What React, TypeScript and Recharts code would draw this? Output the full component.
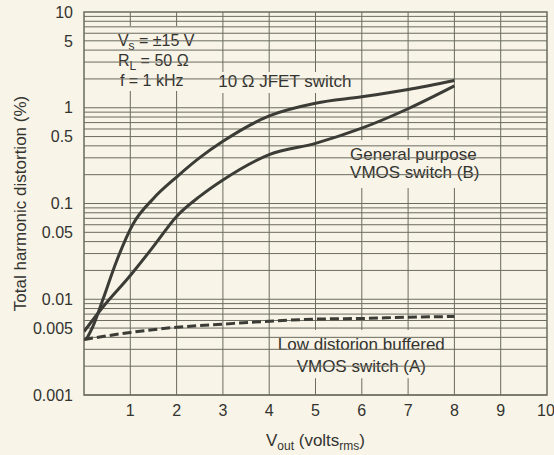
import React from 'react';
import {
  LineChart,
  Line,
  XAxis,
  YAxis,
  CartesianGrid,
  ReferenceArea,
  ReferenceLine,
  Label
} from 'recharts';

// values (against its decade lines)
const jfetVolts = [0.05, 0.2, 0.41, 0.69, 1.06, 1.5, 2, 2.5, 3, 4, 5, 6, 7, 8];
const jfetThd = [0.0038, 0.0053, 0.01, 0.0241, 0.0612, 0.113, 0.189, 0.301, 0.446, 0.822, 1.116, 1.3, 1.55, 1.93];

const vmosBVolts = [0, 0.4, 1, 1.5, 2, 2.5, 3, 4, 5, 6, 7, 8];
const vmosBThd = [0.0046, 0.0082, 0.0177, 0.0356, 0.0733, 0.1186, 0.176, 0.324, 0.425, 0.612, 0.976, 1.69];

const vmosAVolts = [0, 1, 2, 3, 4, 5, 6, 7, 8];
const vmosAThd = [0.0038, 0.0045, 0.0051, 0.0055, 0.0059, 0.0062, 0.0063, 0.0065, 0.0066];

const xTicks = [1, 2, 3, 4, 5, 6, 7, 8, 9, 10];
const yTicks = [0.001, 0.005, 0.01, 0.05, 0.1, 0.5, 1, 5, 10];
const xGrid = [1, 2, 3, 4, 5, 6, 7, 8, 9];
const decades = [0.001, 0.01, 0.1, 1];
const decadeSteps = [2, 3, 4, 5, 6, 7, 8, 9];

const BG = '#f8f4e7';
const GRID = '#6b6b60';
const INK = '#3c3c36';
const TEXT = '#333330';
const FONT = '"Liberation Sans", Arial, Helvetica, sans-serif';

const toPoints = (xs: number[], ys: number[]) => xs.map((v, i) => ({ v, thd: ys[i] }));
const jfetData = toPoints(jfetVolts, jfetThd);
const vmosBData = toPoints(vmosBVolts, vmosBThd);
const vmosAData = toPoints(vmosAVolts, vmosAThd);

// 1 and 2..9 in every decade of the log axis
const yGrid = decades.flatMap(d => [d, ...decadeSteps.map(k => +(k * d).toPrecision(3))]);

const sub = (s: string) => (
  <tspan fontSize={12} dy={4}>{s}</tspan>
);

const renderConditions = (props: any) => {
  const { x, y } = props.viewBox;
  const tx = x + 8;
  return (
    <g fill={TEXT} fontSize={16} fontFamily={FONT}>
      <text x={tx} y={y + 20}>V{sub('s')}<tspan dy={-4}> = ±15 V</tspan></text>
      <text x={tx} y={y + 40}>R{sub('L')}<tspan dy={-4}> = 50 Ω</tspan></text>
      <text x={tx + 2} y={y + 60}>f = 1 kHz</text>
    </g>
  );
};

const renderJfet = (props: any) => {
  const { x, y } = props.viewBox;
  return (
    <text x={x + 5} y={y + 15} fill={TEXT} fontSize={17} fontFamily={FONT}>10 Ω JFET switch</text>
  );
};

const renderGeneral = (props: any) => {
  const { x, y } = props.viewBox;
  return (
    <g fill={TEXT} fontSize={17} fontFamily={FONT}>
      <text x={x + 4} y={y + 20}>General purpose</text>
      <text x={x + 4} y={y + 38}>VMOS switch (B)</text>
    </g>
  );
};

const renderLowDist = (props: any) => {
  const { x, y, width } = props.viewBox;
  const cx = x + width / 2;
  return (
    <g fill={TEXT} fontSize={17} fontFamily={FONT} textAnchor="middle">
      <text x={cx} y={y + 20}>Low distorion buffered</text>
      <text x={cx} y={y + 42}>VMOS switch (A)</text>
    </g>
  );
};

const renderXTitle = (props: any) => {
  const { x, y, width } = props.viewBox;
  return (
    <text x={x + width / 2} y={y + 51} textAnchor="middle" fill={TEXT} fontSize={17} fontFamily={FONT}>
      V{sub('out')}<tspan dy={-4}> (volts</tspan>{sub('rms')}<tspan dy={-4}>)</tspan>
    </text>
  );
};

const App: React.FC = () => {
  return (
    <div
      style={{
        position: 'absolute',
        left: 0,
        top: 0,
        width: 554,
        height: 455,
        background: BG,
        fontFamily: FONT
      }}
    >
      <LineChart width={554} height={455} margin={{ top: 12, right: 7, left: 0, bottom: 0 }}>
        <CartesianGrid stroke={GRID} strokeWidth={1} horizontal={false} verticalValues={xGrid} />
        <XAxis
          type="number"
          dataKey="v"
          domain={[0, 10]}
          ticks={xTicks}
          allowDataOverflow
          height={60}
          axisLine={false}
          tickLine={false}
          tickSize={0}
          tickMargin={10}
          tick={{ fill: TEXT, fontSize: 16, fontFamily: FONT }}
          label={<Label content={renderXTitle} />}
        />
        <YAxis
          type="number"
          scale="log"
          domain={[0.001, 10]}
          ticks={yTicks}
          allowDataOverflow
          width={84}
          axisLine={false}
          tickLine={false}
          tickSize={0}
          tickMargin={11}
          tickFormatter={(v: number) => String(v)}
          tick={{ fill: TEXT, fontSize: 16, fontFamily: FONT }}
          label={{
            value: 'Total harmonic distortion (%)',
            angle: -90,
            position: 'insideLeft',
            offset: 20,
            style: { textAnchor: 'middle', fill: TEXT, fontSize: 17, fontFamily: FONT }
          }}
        />
        {yGrid.map(v => (
          <ReferenceLine key={`g-${v}`} y={v} stroke={GRID} strokeWidth={1} />
        ))}
        {/* plot frame */}
        <ReferenceArea x1={0} x2={10} y1={0.001} y2={10} fill="none" stroke={GRID} strokeWidth={1.5} />
        {/* annotation boxes blank out the grid behind their text */}
        <ReferenceArea x1={0.56} x2={2.55} y1={1.5} y2={7.14} fill={BG} fillOpacity={1} stroke="none">
          <Label content={renderConditions} />
        </ReferenceArea>
        <ReferenceArea x1={2.79} x2={5.9} y1={1.43} y2={2.36} fill={BG} fillOpacity={1} stroke="none">
          <Label content={renderJfet} />
        </ReferenceArea>
        <ReferenceArea x1={5.66} x2={8.57} y1={0.145} y2={0.46} fill={BG} fillOpacity={1} stroke="none">
          <Label content={renderGeneral} />
        </ReferenceArea>
        <ReferenceArea x1={4.1} x2={7.88} y1={0.0015} y2={0.00477} fill={BG} fillOpacity={1} stroke="none">
          <Label content={renderLowDist} />
        </ReferenceArea>
        <Line
          data={jfetData}
          dataKey="thd"
          type="monotone"
          stroke={INK}
          strokeWidth={3}
          dot={false}
          isAnimationActive={false}
        />
        <Line
          data={vmosBData}
          dataKey="thd"
          type="monotone"
          stroke={INK}
          strokeWidth={3}
          dot={false}
          isAnimationActive={false}
        />
        <Line
          data={vmosAData}
          dataKey="thd"
          type="monotone"
          stroke={INK}
          strokeWidth={3}
          strokeDasharray="9 4"
          dot={false}
          isAnimationActive={false}
        />
      </LineChart>
    </div>
  );
};

export default App;
